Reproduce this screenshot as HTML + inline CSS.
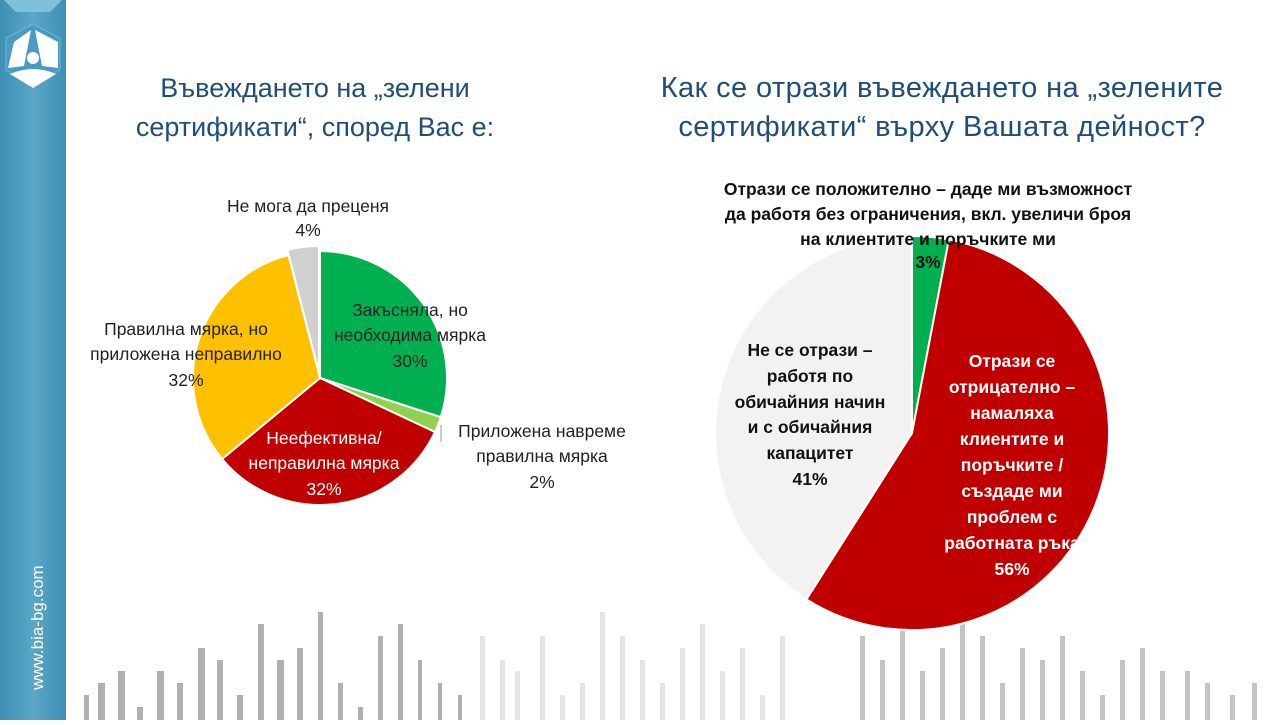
<!DOCTYPE html>
<html><head><meta charset="utf-8"><style>
body{margin:0;width:1280px;height:720px;overflow:hidden;background:#fff;font-family:"Liberation Sans",sans-serif}
</style></head><body>
<svg width="1280" height="720" viewBox="0 0 1280 720" xmlns="http://www.w3.org/2000/svg" font-family="Liberation Sans, sans-serif">
<defs><linearGradient id="sb" x1="0" x2="1"><stop offset="0" stop-color="#3f8fb3"/><stop offset="0.5" stop-color="#5aa7c7"/><stop offset="1" stop-color="#3f8fb3"/></linearGradient></defs>
<rect x="0" y="0" width="66" height="720" fill="url(#sb)"/>
<polygon points="4,0 62,0 50,12 16,12" fill="#7fc0dc"/>
<polygon points="33,24 60,38 60,70 33,86 6,70 6,38" fill="#4a9bbf" stroke="#6fb6d6" stroke-width="1"/>
<g fill="#fff">
<path d="M31,30 L14,42 L8,68 L24,66 Z" />
<path d="M35,30 L58,42 L58,68 L42,66 Z"/>
<circle cx="33" cy="58" r="6"/>
<path d="M10,74 Q33,64 56,74 L33,88 Z"/>
</g>
<text x="0" y="0" transform="translate(43,690) rotate(-90)" font-size="17" fill="#fff">www.bia-bg.com</text>
<g fill="#b0b0b0">
<rect x="84" y="695" width="5" height="25"/><rect x="98" y="683" width="7" height="37"/><rect x="118" y="671" width="7" height="49"/><rect x="137" y="707" width="6" height="13"/><rect x="157" y="671" width="7" height="49"/><rect x="177" y="683" width="6" height="37"/><rect x="198" y="648" width="7" height="72"/><rect x="217" y="660" width="6" height="60"/><rect x="237" y="695" width="6" height="25"/><rect x="258" y="624" width="6" height="96"/><rect x="277" y="660" width="7" height="60"/><rect x="297" y="648" width="6" height="72"/><rect x="318" y="612" width="5" height="108"/><rect x="338" y="683" width="5" height="37"/><rect x="358" y="707" width="5" height="13"/><rect x="378" y="636" width="5" height="84"/><rect x="398" y="624" width="5" height="96"/><rect x="418" y="660" width="4" height="60"/><rect x="438" y="683" width="4" height="37"/><rect x="458" y="695" width="4" height="25"/>
</g>
<g fill="#e4e4e4">
<rect x="480" y="636" width="5" height="84"/><rect x="500" y="660" width="5" height="60"/><rect x="515" y="671" width="5" height="49"/><rect x="540" y="636" width="5" height="84"/><rect x="560" y="695" width="5" height="25"/><rect x="580" y="683" width="5" height="37"/><rect x="600" y="612" width="5" height="108"/><rect x="620" y="636" width="5" height="84"/><rect x="640" y="660" width="5" height="60"/><rect x="660" y="683" width="5" height="37"/><rect x="680" y="648" width="5" height="72"/><rect x="700" y="624" width="5" height="96"/><rect x="720" y="671" width="5" height="49"/><rect x="740" y="648" width="5" height="72"/><rect x="760" y="695" width="5" height="25"/><rect x="780" y="636" width="5" height="84"/>
</g>
<g fill="#c4c4c4">
<rect x="860" y="636" width="5" height="84"/><rect x="880" y="660" width="5" height="60"/><rect x="900" y="612" width="5" height="108"/><rect x="920" y="671" width="5" height="49"/><rect x="940" y="648" width="5" height="72"/><rect x="960" y="624" width="5" height="96"/><rect x="980" y="636" width="5" height="84"/><rect x="1000" y="683" width="5" height="37"/><rect x="1020" y="648" width="5" height="72"/><rect x="1040" y="660" width="5" height="60"/><rect x="1060" y="636" width="5" height="84"/><rect x="1080" y="671" width="5" height="49"/><rect x="1100" y="695" width="5" height="25"/><rect x="1120" y="660" width="5" height="60"/><rect x="1140" y="648" width="5" height="72"/><rect x="1160" y="671" width="5" height="49"/><rect x="1185" y="671" width="5" height="49"/><rect x="1205" y="683" width="5" height="37"/><rect x="1230" y="695" width="5" height="25"/><rect x="1252" y="683" width="5" height="37"/>
</g>
<g fill="#1f4e79" text-anchor="middle">
<text x="315" y="97" font-size="27">Въвеждането на „зелени</text>
<text x="315" y="136" font-size="27">сертификати“, според Вас е:</text>
<text x="942" y="97" font-size="29" letter-spacing="0.4">Как се отрази въвеждането на „зелените</text>
<text x="942" y="136" font-size="29" letter-spacing="0.4">сертификати“ върху Вашата дейност?</text>
</g>
<g stroke="#fff" stroke-width="2">
<path d="M320,378 L320,251 A127,127 0 0 1 440.8,417.2 Z" fill="#00b050"/>
<path d="M320,378 L440.8,417.2 A127,127 0 0 1 434.9,432 Z" fill="#92d050"/>
<path d="M320,378 L434.9,432 A127,127 0 0 1 222.1,459 Z" fill="#c00000"/>
<path d="M320,378 L222.1,459 A127,127 0 0 1 288.4,255 Z" fill="#ffc000"/>
<path d="M319,373 L287.4,250 A127,127 0 0 1 319,246 Z" fill="#d0d0d0"/>
</g>
<line x1="441" y1="425" x2="441" y2="442" stroke="#bbb" stroke-width="1.5"/>
<g font-size="17.5" text-anchor="middle" fill="#222">
<text x="308" y="212">Не мога да преценя</text>
<text x="308" y="236">4%</text>
<text x="410" y="316">Закъсняла, но</text>
<text x="410" y="341">необходима мярка</text>
<text x="410" y="367">30%</text>
<text x="186" y="335">Правилна мярка, но</text>
<text x="186" y="360">приложена неправилно</text>
<text x="186" y="386">32%</text>
<text x="542" y="437">Приложена навреме</text>
<text x="542" y="462">правилна мярка</text>
<text x="542" y="488">2%</text>
<g fill="#fff"><text x="324" y="444">Неефективна/</text><text x="324" y="469">неправилна мярка</text><text x="324" y="495">32%</text></g>
</g>
<g stroke="#fff" stroke-width="2">
<path d="M912,433 L912,236 A197,197 0 0 1 948.9,239.5 Z" fill="#00b050"/>
<path d="M912,433 L948.9,239.5 A197,197 0 1 1 806.4,599.3 Z" fill="#c00000"/>
<path d="M912,433 L806.4,599.3 A197,197 0 0 1 912,236 Z" fill="#f2f2f2"/>
</g>
<g font-size="17.5" font-weight="bold" text-anchor="middle" fill="#111">
<text x="928" y="195">Отрази се положително – даде ми възможност</text>
<text x="928" y="220">да работя без ограничения, вкл. увеличи броя</text>
<text x="928" y="245">на клиентите и поръчките ми</text>
<text x="928" y="268">3%</text>
<text x="810" y="356">Не се отрази –</text>
<text x="810" y="382">работя по</text>
<text x="810" y="408">обичайния начин</text>
<text x="810" y="433">и с обичайния</text>
<text x="810" y="459">капацитет</text>
<text x="810" y="485">41%</text>
<g fill="#fff">
<text x="1012" y="367">Отрази се</text><text x="1012" y="393">отрицателно –</text><text x="1012" y="419">намаляха</text><text x="1012" y="445">клиентите и</text><text x="1012" y="471">поръчките /</text><text x="1012" y="497">създаде ми</text><text x="1012" y="523">проблем с</text><text x="1012" y="541" dy="8">работната ръка</text><text x="1012" y="567" dy="8">56%</text>
</g>
</g>
</svg>
</body></html>
